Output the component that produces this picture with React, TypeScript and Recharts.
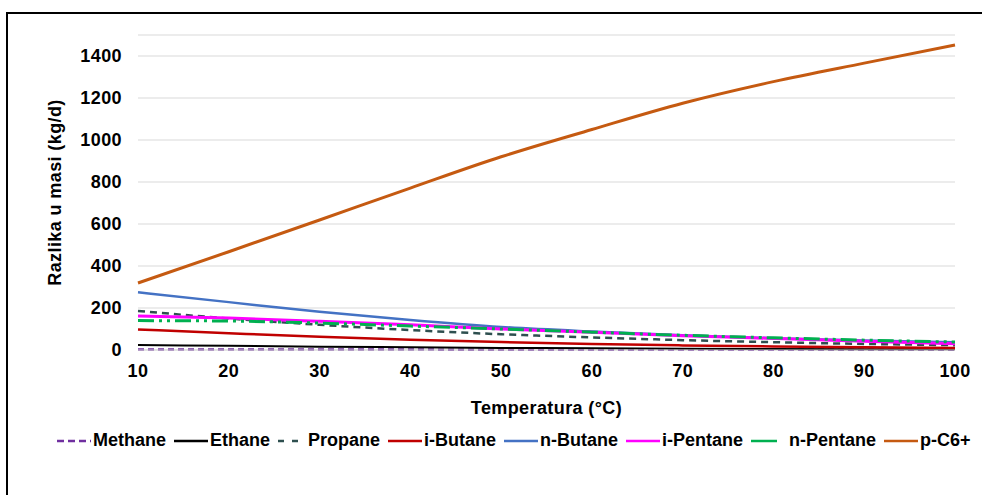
import { LineChart, Line, XAxis, YAxis, CartesianGrid } from "recharts";

const temps = [10, 20, 30, 40, 50, 60, 70, 80, 90, 100];
const methane = [2, 2, 2, 2, 1, 1, 1, 1, 1, 1];
const ethane = [24, 20, 16, 13, 10, 8, 6, 5, 4, 3];
const propane = [186, 150, 120, 95, 75, 60, 47, 37, 29, 23];
const iButane = [98, 80, 63, 49, 38, 29, 22, 17, 13, 10];
const nButane = [275, 228, 182, 143, 110, 88, 70, 56, 45, 37];
const iPentane = [162, 152, 137, 120, 100, 84, 68, 55, 42, 30];
const nPentane = [140, 138, 128, 114, 100, 85, 70, 58, 47, 38];
const pC6 = [319, 468, 619, 771, 920, 1050, 1175, 1278, 1366, 1452];

const yTicks = [0, 200, 400, 600, 800, 1000, 1200, 1400];

const data = temps.map((t, i) => ({
  t,
  methane: methane[i],
  ethane: ethane[i],
  propane: propane[i],
  iButane: iButane[i],
  nButane: nButane[i],
  iPentane: iPentane[i],
  nPentane: nPentane[i],
  pC6: pC6[i],
}));

// legendDash / iconLen / iconGap: how the short sample looks in the legend row
const SERIES = [
  { key: "methane", name: "Methane", color: "#7030A0", dash: "6 4", legendDash: "7 4", iconLen: 34, iconGap: 0, width: 2.5 },
  { key: "ethane", name: "Ethane", color: "#000000", dash: undefined, legendDash: undefined, iconLen: 34, iconGap: 0, width: 2 },
  { key: "propane", name: "Propane", color: "#2E4F4F", dash: "7 5", legendDash: "6 8", iconLen: 20, iconGap: 8, width: 2.5 },
  { key: "iButane", name: "i-Butane", color: "#C00000", dash: undefined, legendDash: undefined, iconLen: 34, iconGap: 0, width: 2.5 },
  { key: "nButane", name: "n-Butane", color: "#4472C4", dash: undefined, legendDash: undefined, iconLen: 34, iconGap: 0, width: 2.5 },
  { key: "iPentane", name: "i-Pentane", color: "#FF00FF", dash: undefined, legendDash: undefined, iconLen: 34, iconGap: 0, width: 3 },
  { key: "nPentane", name: "n-Pentane", color: "#00B050", dash: "16 5 3 5 3 5", legendDash: undefined, iconLen: 26, iconGap: 10, width: 3 },
  { key: "pC6", name: "p-C6+", color: "#C55A11", dash: undefined, legendDash: undefined, iconLen: 34, iconGap: 0, width: 3 },
];

const font = "'Liberation Sans', Arial, sans-serif";
const textStyle = { fontFamily: font, fontWeight: "bold", fontSize: 18, fill: "#000", letterSpacing: 0.4 };

function LegendRow() {
  return (
    <div
      style={{
        position: "absolute",
        left: 57,
        top: 430,
        display: "flex",
        alignItems: "center",
        fontFamily: font,
        fontWeight: "bold",
        fontSize: 18,
        color: "#000",
        whiteSpace: "nowrap",
      }}
    >
      {SERIES.map((s) => (
        <div key={s.key} style={{ display: "flex", alignItems: "center", marginRight: 8 }}>
          <svg width={s.iconLen + 2} height={10} style={{ marginRight: s.iconGap }}>
            <line
              x1={0}
              y1={5}
              x2={s.iconLen}
              y2={5}
              stroke={s.color}
              strokeWidth={2.5}
              strokeDasharray={s.legendDash}
            />
          </svg>
          <span>{s.name}</span>
        </div>
      ))}
    </div>
  );
}

export default function App() {
  return (
    <div
      style={{
        position: "fixed",
        left: 0,
        top: 0,
        width: 982,
        height: 495,
        background: "#fff",
        overflow: "hidden",
      }}
    >
      <div
        style={{
          position: "absolute",
          left: 6,
          top: 12,
          width: 1000,
          height: 500,
          borderLeft: "2px solid #000",
          borderTop: "2px solid #000",
        }}
      />
      <LineChart
        width={982}
        height={495}
        data={data}
        margin={{ top: 35, right: 27, left: 36, bottom: 75 }}
      >
        <CartesianGrid vertical={false} stroke="#d9d9d9" strokeWidth={1} />
        <XAxis
          dataKey="t"
          type="number"
          domain={[10, 100]}
          ticks={temps}
          tickLine={false}
          axisLine={{ stroke: "#d9d9d9" }}
          height={70}
          tick={{ ...textStyle, dy: 6 }}
          label={{
            value: "Temperatura (°C)",
            position: "insideBottom",
            offset: 6,
            style: textStyle,
          }}
        />
        <YAxis
          domain={[0, 1500]}
          ticks={yTicks}
          interval={0}
          tickLine={false}
          axisLine={false}
          width={102}
          tick={{ ...textStyle, dx: -8 }}
          label={{
            value: "Razlika u masi (kg/d)",
            angle: -90,
            position: "insideLeft",
            offset: 19,
            style: { ...textStyle, textAnchor: "middle" },
          }}
        />
        {SERIES.map((s) => (
          <Line
            key={s.key}
            dataKey={s.key}
            name={s.name}
            type="monotone"
            stroke={s.color}
            strokeWidth={s.width}
            strokeDasharray={s.dash}
            dot={false}
            isAnimationActive={false}
          />
        ))}
      </LineChart>
      <LegendRow />
    </div>
  );
}
